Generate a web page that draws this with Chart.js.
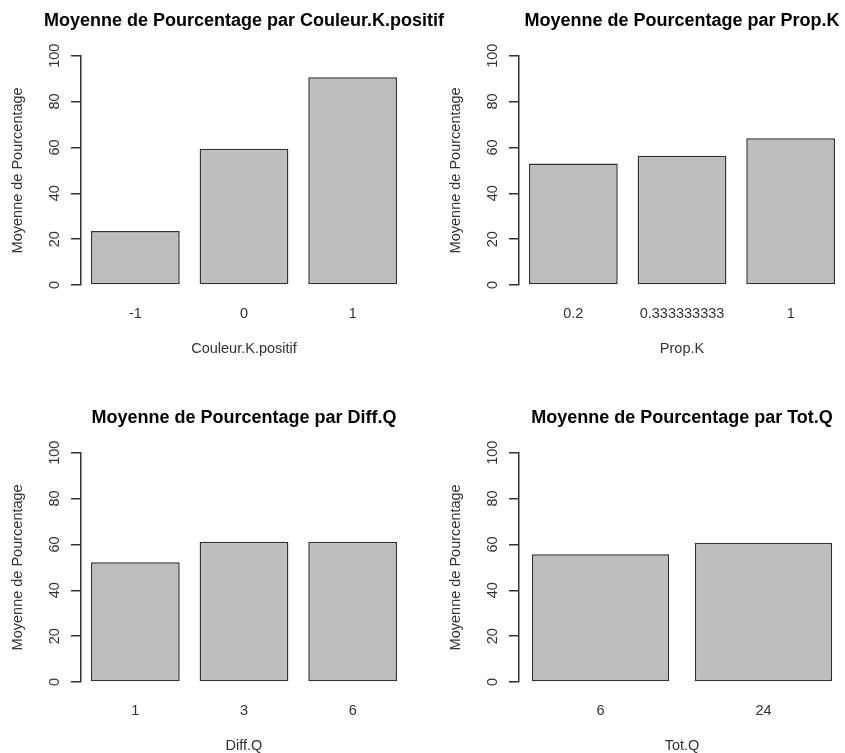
<!DOCTYPE html>
<html>
<head>
<meta charset="utf-8">
<title>Moyenne de Pourcentage</title>
<script src="https://cdn.jsdelivr.net/npm/chart.js@4.4.1/dist/chart.umd.min.js"></script>
<style>
  html, body { margin: 0; padding: 0; background: #fff; overflow: hidden; }
  #wrap { position: relative; width: 845px; height: 753px; overflow: hidden; background: #fff; }
  #wrap canvas { position: absolute; }
</style>
</head>
<body>
<div id="wrap">
  <canvas id="chart-couleur" width="488" height="376" style="left:0px;top:0px"></canvas>
  <canvas id="chart-prop" width="488" height="376" style="left:438px;top:0px"></canvas>
  <canvas id="chart-diff" width="488" height="376" style="left:0px;top:397px"></canvas>
  <canvas id="chart-tot" width="488" height="376" style="left:438px;top:397px"></canvas>
</div>
<script>
// moyennes (R barplot)
const yTitle = 'Moyenne de Pourcentage';
const yTicks = [0, 20, 40, 60, 80, 100];

const couleurLabels = ['-1', '0', '1'];
const couleurValues = [23.5, 59.4, 90.6];

const propLabels = ['0.2', '0.333333333', '1'];
const propValues = [53.0, 56.4, 64.0];

const diffLabels = ['1', '3', '6'];
const diffValues = [52.2, 61.2, 61.2];

const totLabels = ['6', '24'];
const totValues = [55.7, 60.7];

const FONT = "'Liberation Sans', Arial, sans-serif";
const textFont = { family: FONT, size: 14.5, lineHeight: 1.2 };

function drawPanel(id, labels, values, title, xTitle, barPct) {
    const ctx = document.getElementById(id)?.getContext('2d');
    if (!ctx) return;
    new Chart(ctx, {
        type: 'bar',
        data: {
            labels: labels,
            datasets: [{
                data: values,
                backgroundColor: '#bebebe',
                borderColor: '#333333',
                borderWidth: 1.5,
                borderSkipped: false,
                barPercentage: barPct,
                categoryPercentage: 1
            }]
        },
        options: {
            responsive: false,
            animation: false,
            devicePixelRatio: 1,
            layout: { padding: 0 },
            plugins: {
                legend: { display: false },
                tooltip: { enabled: false },
                title: {
                    display: true,
                    text: title,
                    color: '#000',
                    font: { family: FONT, size: 18, weight: 'bold', lineHeight: 1.2 },
                    padding: { top: 10.1, bottom: 24 }
                }
            },
            scales: {
                x: {
                    type: 'category',
                    offset: true,
                    grid: { display: false, drawTicks: false },
                    border: { display: false },
                    ticks: { color: '#333', font: textFont, padding: 20, maxRotation: 0, autoSkip: false },
                    title: { display: true, text: xTitle, color: '#333', font: textFont, padding: { top: 0, bottom: 18.3 } },
                    afterFit: s => { s.height = 91; }
                },
                y: {
                    type: 'linear',
                    position: 'left',
                    min: 0,
                    max: 100,
                    grid: { drawOnChartArea: false, drawTicks: true, tickLength: 10, color: '#333', lineWidth: 1.5, tickColor: '#333', tickWidth: 1.5 },
                    border: { display: true, color: '#333', width: 1.5 },
                    ticks: { color: '#333', font: textFont, padding: 4.4, minRotation: 90, maxRotation: 90, crossAlign: 'center' },
                    afterBuildTicks: s => { s.ticks = yTicks.map(v => ({ value: v })); },
                    title: { display: true, text: yTitle, color: '#333', font: textFont, padding: { top: 9.6, bottom: 0 } },
                    afterFit: s => { s.width = 81; }
                },
                y2: {
                    type: 'linear',
                    position: 'right',
                    grid: { display: false },
                    border: { display: false },
                    ticks: { display: false },
                    afterFit: s => { s.width = 81; }
                }
            }
        }
    });
}

drawPanel('chart-couleur', couleurLabels, couleurValues, 'Moyenne de Pourcentage par Couleur.K.positif', 'Couleur.K.positif', 0.817);
drawPanel('chart-prop', propLabels, propValues, 'Moyenne de Pourcentage par Prop.K', 'Prop.K', 0.817);
drawPanel('chart-diff', diffLabels, diffValues, 'Moyenne de Pourcentage par Diff.Q', 'Diff.Q', 0.817);
drawPanel('chart-tot', totLabels, totValues, 'Moyenne de Pourcentage par Tot.Q', 'Tot.Q', 0.842);
</script>
</body>
</html>
